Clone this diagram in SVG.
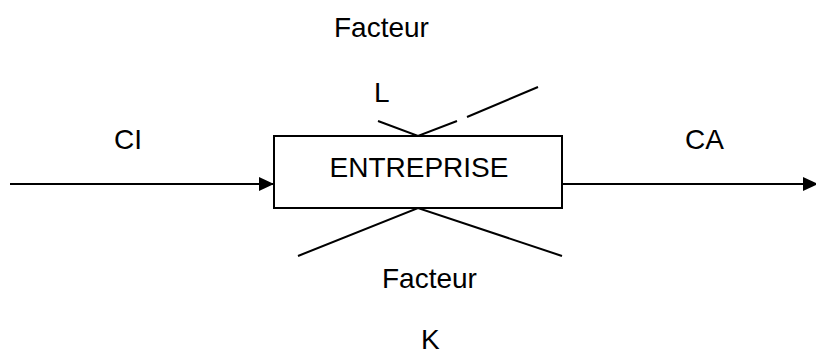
<svg xmlns="http://www.w3.org/2000/svg" width="816" height="356" viewBox="0 0 816 356">
  <style>
    .lbl { font-family: "Liberation Sans", Arial, sans-serif; font-size: 28px; fill: #000; }
    .ln { stroke: #000; stroke-width: 2; fill: none; }
  </style>
  <defs>
    <marker id="arrow" markerWidth="16" markerHeight="14" refX="15" refY="7" orient="auto" markerUnits="userSpaceOnUse">
      <path d="M0,0 L15,7 L0,14 Z" fill="#000"/>
    </marker>
  </defs>
  <rect width="816" height="356" fill="#fff"/>

  <!-- connectors: input/output flows and production factor lines -->
  <g id="connectors">
    <line class="ln" x1="10" y1="184" x2="274" y2="184" marker-end="url(#arrow)"/>
    <line class="ln" x1="562" y1="184" x2="818" y2="184" marker-end="url(#arrow)"/>
    <!-- factor L (top) -->
    <polyline class="ln" points="378,121 418,136 457,121"/>
    <line class="ln" x1="467" y1="117" x2="538" y2="87"/>
    <!-- factor K (bottom) -->
    <polyline class="ln" points="298,256 418,208 562,256"/>
  </g>

  <g id="entreprise">
    <rect x="274" y="136" width="288" height="72" fill="#fff" stroke="#000" stroke-width="2"/>
    <text class="lbl" x="419" y="177" text-anchor="middle">ENTREPRISE</text>
  </g>

  <g id="facteur-l">
    <text class="lbl" x="334" y="37">Facteur</text>
    <text class="lbl" x="374" y="102">L</text>
  </g>

  <g id="facteur-k">
    <text class="lbl" x="382" y="288">Facteur</text>
    <text class="lbl" x="421" y="349">K</text>
  </g>

  <g id="ci">
    <text class="lbl" x="114" y="149">CI</text>
  </g>

  <g id="ca">
    <text class="lbl" x="685" y="149">CA</text>
  </g>
</svg>
